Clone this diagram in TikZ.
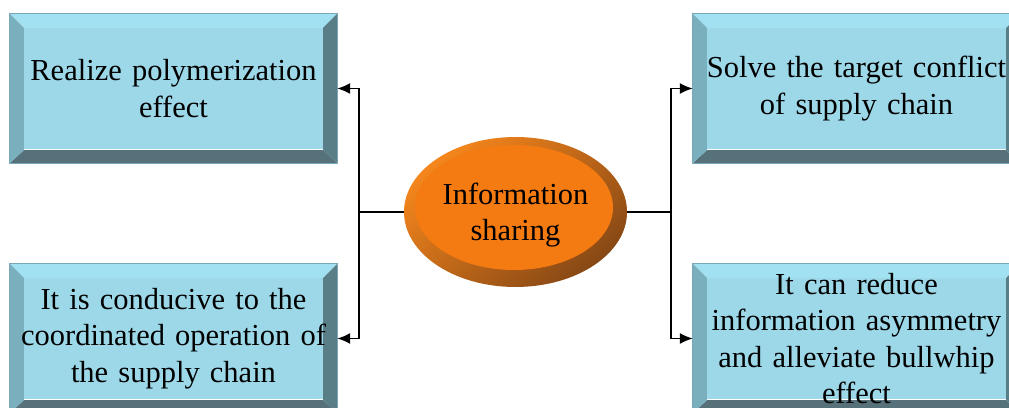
\documentclass[tikz,border=0pt]{standalone}
\usepackage{fontspec}
\setmainfont{Liberation Serif}
\usetikzlibrary{arrows.meta,backgrounds,calc,shapes.geometric}
\definecolor{facec}{HTML}{9DD8E9}
\definecolor{topc}{HTML}{A2E1F1}
\definecolor{leftc}{HTML}{7AB0BE}
\definecolor{rightc}{HTML}{5A7E88}
\definecolor{botc}{HTML}{567179}
\definecolor{edgec}{HTML}{78A8B5}
\definecolor{ringlight}{HTML}{F5861C}
\definecolor{ringdark}{HTML}{874815}
\definecolor{innerc}{HTML}{F47A12}
\newcommand\bevelbox[1]{%
 \fill[facec] ([shift={(14,-14)}]#1.north west) rectangle ([shift={(-14,14)}]#1.south east);
 \fill[topc] (#1.north west) -- (#1.north east) -- ([shift={(-14,-14)}]#1.north east) -- ([shift={(14,-14)}]#1.north west) -- cycle;
 \fill[botc] (#1.south west) -- (#1.south east) -- ([shift={(-14,13)}]#1.south east) -- ([shift={(14,13)}]#1.south west) -- cycle;
 \fill[leftc] (#1.north west) -- (#1.south west) -- ([shift={(14,13)}]#1.south west) -- ([shift={(14,-14)}]#1.north west) -- cycle;
 \fill[rightc] (#1.north east) -- (#1.south east) -- ([shift={(-14,13)}]#1.south east) -- ([shift={(-14,-14)}]#1.north east) -- cycle;
 \draw[edgec, line width=0.8pt] (#1.north west) rectangle (#1.south east);
}
\tikzset{
  bbox/.style={rectangle, minimum width=327pt, minimum height=149pt, inner sep=0pt,
    text width=320pt, align=center, font=\fontsize{30.5}{36.6}\selectfont},
  hub/.style={ellipse, minimum width=223pt, minimum height=150pt, inner sep=0pt},
  hubtext/.style={align=center, inner sep=0pt, font=\fontsize{30.5}{36.6}\selectfont},
  conn/.style={line width=1.5pt, black},
  arr/.style={conn, -{Latex[length=13pt,width=11pt]}}
}
\begin{document}
\begin{tikzpicture}[x=1pt,y=1pt]
\useasboundingbox (0,0) rectangle (1009,407);
\node[bbox] (tl) at (173.5,318.5) {Realize polymerization\\effect};
\node[bbox] (bl) at (173.5,68.5) {It is conducive to the\\coordinated operation of\\the supply chain};
\node[bbox] (tr) at (856.5,318.5) {Solve the target conflict\\of supply chain};
\node[bbox] (br) at (856.5,68.5) {It can reduce\\information asymmetry\\and alleviate bullwhip\\effect};
\node[hub] (e) at (515.5,195) {};
\node[hubtext] (et) at ([yshift=-3]e.center) {Information\\sharing};
\begin{pgfonlayer}{background}
 \bevelbox{tl}
 \bevelbox{bl}
 \bevelbox{tr}
 \bevelbox{br}
 \shade[top color=ringlight, bottom color=ringdark, shading angle=40] (e.center) ellipse [x radius=111.5, y radius=75];
 \fill[innerc] ([shift={(-1.5,4.5)}]e.center) ellipse [x radius=99, y radius=62.5];
\end{pgfonlayer}
\coordinate (jl) at (359,195);
\coordinate (jr) at (671,195);
\draw[conn] (e.west) -- (jl);
\draw[conn] (e.east) -- (jr);
\draw[arr] (jl) |- (tl.east);
\draw[arr] (jl) |- (bl.east);
\draw[arr] (jr) |- (tr.west);
\draw[arr] (jr) |- (br.west);
\end{tikzpicture}
\end{document}
